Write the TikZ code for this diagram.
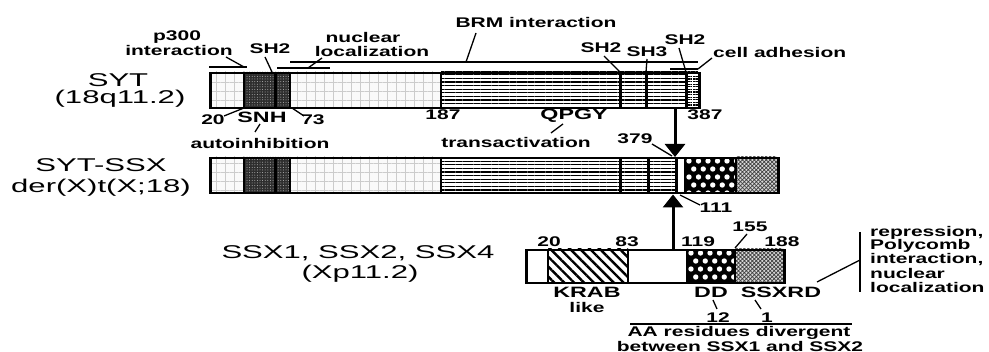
\documentclass[tikz,border=0pt]{standalone}
\usepackage{fontspec}
\setmainfont{Liberation Sans}
\newfontfamily\bigf[FakeStretch=1.68]{Liberation Sans}
\newfontfamily\smf[FakeStretch=1.5]{Liberation Sans}
\newfontfamily\domf[FakeStretch=1.55]{Liberation Sans}
\usetikzlibrary{patterns.meta,arrows.meta}
\newcommand\ddpat[4]{%
  \begin{scope}
    \clip (#1,#2) rectangle (#3,#4);
    \fill[black] (#1,#2) rectangle (#3,#4);
    \foreach \j in {0,...,5}{\foreach \i in {0,...,6}{
      \fill[white] ({#1+4+9.5*\i+4.75*mod(\j,2)},{#2+4+8*\j}) circle[radius=2.7pt];
    }}
  \end{scope}}
\tikzset{
  big/.style={font=\bigf\fontsize{18.5}{20}\selectfont, inner sep=0pt},
  lbl/.style={font=\smf\bfseries\fontsize{14}{14}\selectfont, inner sep=0pt},
  dom/.style={font=\domf\bfseries\fontsize{15}{16}\selectfont, inner sep=0pt},
  ptr/.style={line width=1.3pt},
  segline/.style={line width=1.8pt},
  thickseg/.style={line width=3pt},
  barbox/.style={draw, line width=2.5pt, inner sep=0pt, anchor=north west},
  arr/.style={line width=3pt, -{Triangle[width=20pt,length=13pt]}},
  gridfill/.style={fill=gray!4, postaction={pattern={Hatch[angle=0,distance=9pt,line width=0.9pt]}, pattern color=gray!40}},
  darkfill/.style={fill=black!82, postaction={pattern={Dots[radius=0.5pt,distance=2.6pt]}, pattern color=gray!55}},
  hlines/.style={fill=white, postaction={pattern={Lines[angle=0,distance=3.6pt,line width=1.1pt]}, pattern color=black}},
  denselines/.style={fill=white, postaction={pattern={Lines[angle=0,distance=2.6pt,line width=1.1pt]}, pattern color=black}},
  krabfill/.style={fill=white, postaction={pattern={Lines[angle=-45,distance=7pt,line width=2.4pt]}, pattern color=black}},
  rdfill/.style={fill=gray!30, postaction={pattern={Hatch[angle=45,distance=2.8pt,line width=0.7pt]}, pattern color=black!75}},
}
\begin{document}
\begin{tikzpicture}[x=1pt,y=-1pt]
\useasboundingbox[fill=white] (0,0) rectangle (989,352);

% ---------- SYT bar ----------
\path[gridfill] (209,72) rectangle (244,107);
\path[darkfill] (244,72) rectangle (290,107);
\path[gridfill] (290,72) rectangle (441,107);
\path[hlines] (441,72) rectangle (686,107);
\path[denselines] (686,72) rectangle (698,107);
\draw[thickseg] (275,72) -- (275,107);
\draw[segline] (244,72) -- (244,107);
\draw[segline] (290,72) -- (290,107);
\draw[segline] (441,72) -- (441,107);
\draw[thickseg] (620,72) -- (620,107);
\draw[thickseg] (646,72) -- (646,107);
\draw[thickseg] (686,72) -- (686,107);
\draw[line width=0.8pt, white] (692,72) -- (692,107);
\node[barbox, minimum width=489pt, minimum height=35pt] (syt) at (209,72) {};

% ---------- SYT-SSX bar ----------
\path[gridfill] (209,157) rectangle (244,192);
\path[darkfill] (244,157) rectangle (290,192);
\path[gridfill] (290,157) rectangle (441,192);
\path[hlines] (441,157) rectangle (675,192);
\draw[thickseg] (275,157) -- (275,192);
\draw[segline] (244,157) -- (244,192);
\draw[segline] (290,157) -- (290,192);
\draw[segline] (441,157) -- (441,192);
\draw[thickseg] (620,157) -- (620,192);
\draw[thickseg] (648,157) -- (648,192);
\draw[thickseg] (676,157) -- (676,192);
\ddpat{685}{157}{735}{192}
\path[rdfill] (736,157) rectangle (777,192);
\draw[segline] (685,157) -- (685,192);
\draw[segline] (736,157) -- (736,192);
\node[barbox, minimum width=568pt, minimum height=35pt] (fus) at (209,157) {};

% ---------- SSX bar ----------
\path[krabfill] (548,249) rectangle (628,282);
\ddpat{687}{249}{735}{282}
\path[rdfill] (735,249) rectangle (783,282);
\draw[segline] (548,249) -- (548,282);
\draw[segline] (628,249) -- (628,282);
\draw[segline] (687,249) -- (687,282);
\draw[segline] (735,249) -- (735,282);
\node[barbox, minimum width=258pt, minimum height=33pt] (ssx) at (525,249) {};

% ---------- arrows ----------
\coordinate (ax) at (675,0);
\coordinate (bx) at (673,0);
\draw[arr] (syt.south -| ax) -- (fus.north -| ax);
\draw[arr] (ssx.north -| bx) -- (fus.south -| bx);

% ---------- left labels ----------
\node[big, anchor=base] (tsyt) at (118,87) {SYT};
\node[big, anchor=base] (tsytloc) at (120,104) {(18q11.2)};
\node[big, anchor=base] (tfus) at (101,172) {SYT-SSX};
\node[big, anchor=base] (tfusloc) at (101,193) {der(X)t(X;18)};
\node[big, anchor=base] (tssx) at (358,259) {SSX1, SSX2, SSX4};
\node[big, anchor=base] (tssxloc) at (360,279) {(Xp11.2)};

% ---------- top annotations ----------
\node[lbl] (tp300) at (177,37) {p300};
\node[lbl] (tp300b) at (179,51) {interaction};
\coordinate (p300a) at (209,67); \coordinate (p300b) at (247,67);
\draw[ptr] (p300a) -- (p300b);
\coordinate (p300c) at (244,67); \coordinate (p300d) at (226,57);
\draw[ptr] (p300c) -- (p300d);

\node[lbl] (tsh2a) at (270,49) {SH2};
\coordinate (sh2a1) at (272,72); \coordinate (sh2a2) at (265,57);
\draw[ptr] (sh2a1) -- (sh2a2);

\node[lbl] (tnuc) at (363,38) {nuclear};
\node[lbl] (tnucb) at (372,52) {localization};
\coordinate (nla) at (277,68); \coordinate (nlb) at (330,68);
\draw[ptr] (nla) -- (nlb);
\coordinate (nlc) at (308,68); \coordinate (nld) at (322,58);
\draw[ptr] (nlc) -- (nld);

\node[lbl] (tbrm) at (536,23) {BRM interaction};
\coordinate (brma) at (290,62); \coordinate (brmb) at (698,62);
\draw[ptr] (brma) -- (brmb);
\coordinate (brmc) at (466,62); \coordinate (brmd) at (476,33);
\draw[ptr] (brmc) -- (brmd);

\node[lbl] (tsh2b) at (601,48) {SH2};
\coordinate (sh2b1) at (604,56); \coordinate (sh2b2) at (620,72);
\draw[ptr] (sh2b1) -- (sh2b2);
\node[lbl] (tsh3) at (647,52) {SH3};
\coordinate (sh31) at (647,59); \coordinate (sh32) at (646,72);
\draw[ptr] (sh31) -- (sh32);
\node[lbl] (tsh2c) at (685,40) {SH2};
\coordinate (sh2c1) at (679,48); \coordinate (sh2c2) at (686,72);
\draw[ptr] (sh2c1) -- (sh2c2);

\node[lbl, anchor=west] (tcell) at (713,53) {cell adhesion};
\coordinate (caa) at (670,69); \coordinate (cab) at (698,69);
\draw[ptr] (caa) -- (cab);
\coordinate (cac) at (712,58);
\draw[ptr] (cab) -- (cac);

% ---------- under SYT ----------
\node[lbl] (t20a) at (213,120) {20};
\coordinate (p20a) at (224,116); \coordinate (p20b) at (244,108);
\draw[ptr] (p20a) -- (p20b);
\node[dom] (tsnh) at (262,117) {SNH};
\node[lbl] (t73) at (313,120) {73};
\coordinate (p73a) at (292,108); \coordinate (p73b) at (304,116);
\draw[ptr] (p73a) -- (p73b);
\coordinate (snha) at (260,124); \coordinate (snhb) at (255,132);
\draw[ptr] (snha) -- (snhb);
\node[lbl] (tauto) at (260,143) {autoinhibition};

\node[lbl] (t187) at (443,115) {187};
\node[dom] (tqpgy) at (574,116) {QPGY};
\coordinate (qa) at (563,124); \coordinate (qb) at (551,133);
\draw[ptr] (qa) -- (qb);
\node[lbl] (ttrans) at (516,142) {transactivation};
\node[lbl] (t387) at (705,115) {387};

\node[lbl] (t379) at (635,139) {379};
\coordinate (p379a) at (652,144); \coordinate (p379b) at (672,156);
\draw[ptr] (p379a) -- (p379b);

\node[lbl] (t111) at (716,208) {111};
\coordinate (p111a) at (680,195); \coordinate (p111b) at (700,205);
\draw[ptr] (p111a) -- (p111b);

% ---------- SSX annotations ----------
\node[lbl] (s20) at (549,242) {20};
\node[lbl] (s83) at (627,242) {83};
\node[lbl] (s119) at (698,242) {119};
\node[lbl] (s155) at (750,227) {155};
\coordinate (p155a) at (747,234); \coordinate (p155b) at (735,248);
\draw[ptr] (p155a) -- (p155b);
\node[lbl] (s188) at (782,242) {188};

\node[dom] (tkrab) at (587,292) {KRAB};
\node[lbl] (tlike) at (587,307) {like};
\node[dom] (tdd) at (711,292) {DD};
\node[dom] (tssxrd) at (781,292) {SSXRD};
\coordinate (dda) at (713,300); \coordinate (ddb) at (717,309);
\draw[ptr] (dda) -- (ddb);
\coordinate (rda) at (755,300); \coordinate (rdb) at (761,309);
\draw[ptr] (rda) -- (rdb);
\node[lbl] (t12) at (718,318) {12};
\node[lbl] (t1) at (767,318) {1};
\coordinate (ula) at (630,324); \coordinate (ulb) at (852,324);
\draw[ptr] (ula) -- (ulb);
\node[lbl] (taa) at (739,333) {AA residues divergent};
\node[lbl] (tbetw) at (740,346) {between SSX1 and SSX2};

\coordinate (bra) at (860,232); \coordinate (brb) at (860,292);
\draw[line width=2pt] (bra) -- (brb);
\coordinate (brc) at (817,282); \coordinate (brd) at (860,260);
\draw[ptr] (brc) -- (brd);
\node[lbl, anchor=west] (r1) at (870,233) {repression,};
\node[lbl, anchor=west] (r2) at (870,246) {Polycomb};
\node[lbl, anchor=west] (r3) at (870,260) {interaction,};
\node[lbl, anchor=west] (r4) at (870,273) {nuclear};
\node[lbl, anchor=west] (r5) at (870,287) {localization};
\end{tikzpicture}
\end{document}
